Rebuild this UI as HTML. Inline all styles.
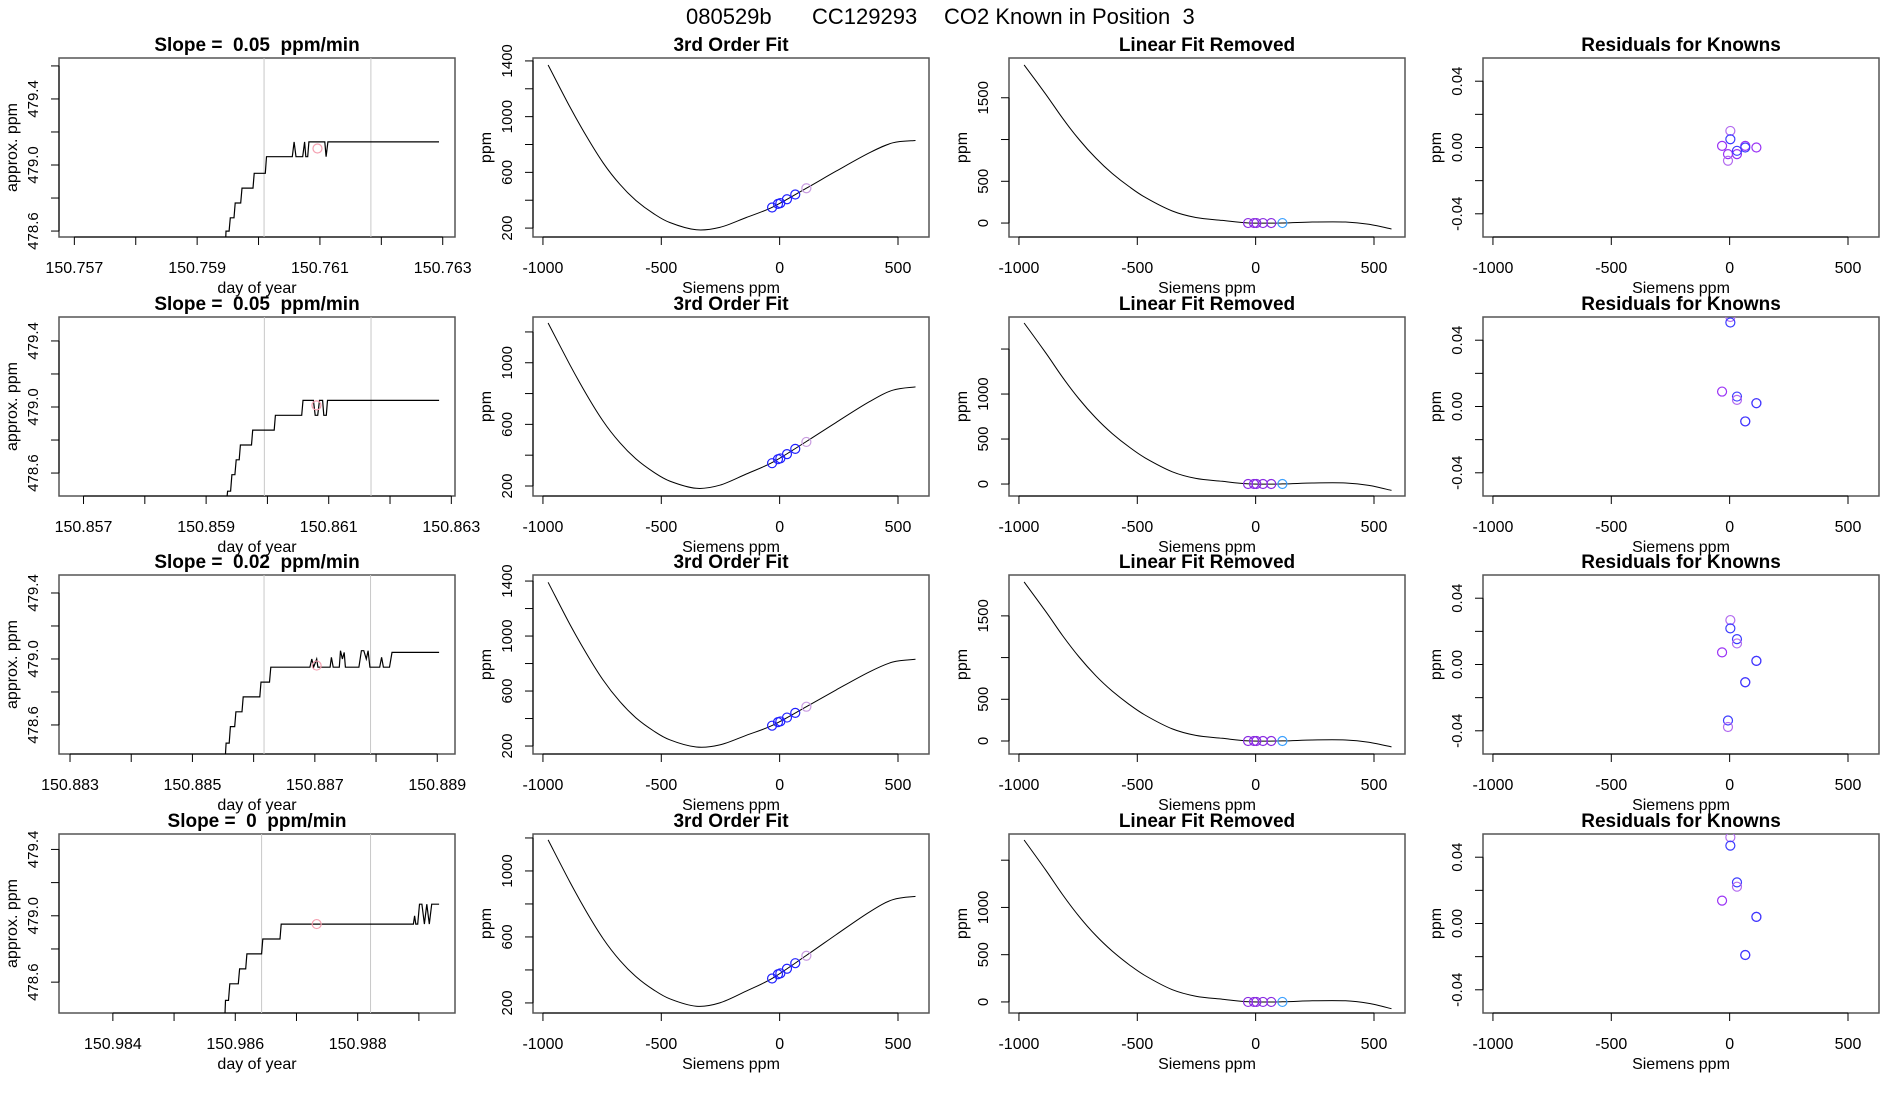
<!DOCTYPE html>
<html><head><meta charset="utf-8">
<style>
html,body{margin:0;padding:0;background:#fff;}
svg{display:block;font-family:"Liberation Sans",sans-serif;}
text{white-space:pre;}
</style></head>
<body>
<svg id="fig" width="1900" height="1100" viewBox="0 0 1900 1100" xmlns="http://www.w3.org/2000/svg" xml:space="preserve">
<rect width="1900" height="1100" fill="#fff"/>
<g font-size="22" fill="#000">
<text x="686" y="24">080529b</text>
<text x="812" y="24">CC129293</text>
<text x="944" y="24">CO2 Known in Position  3</text>
</g>
</svg>
<script>
// ---------- data ----------
const rowTops = [58, 317, 575, 834];
const slopeLabels = ["0.05", "0.05", "0.02", "0"];
const tsDomains = [[150.75675,150.7632],[150.8566,150.86306],[150.88282,150.88929],[150.98312,150.98959]];
const tsYDomains = [[478.564,479.648],[478.461,479.545],[478.424,479.509],[478.414,479.493]];
const tsTickStart = [150.757,150.857,150.883,150.984];
const tsLabelEvery = [[0,2,4,6],[0,2,4,6],[0,2,4,6],[0,2,4]];
const tsT1 = [150.75945,150.75947,150.75952,150.75954,150.7596,150.75962,150.75971,150.75973,150.75991,150.75993,150.76011,150.76013,150.76055,150.76058,150.76061,150.76072,150.76075,150.76077,150.7608,150.76082,150.76108,150.7611,150.76113,150.76294];
const tsV1 = [478.4,478.6,478.6,478.68,478.68,478.77,478.77,478.86,478.86,478.95,478.95,479.05,479.05,479.14,479.05,479.05,479.14,479.05,479.05,479.14,479.14,479.05,479.14,479.14];
const tsT2 = [150.8593,150.85935,150.8594,150.85942,150.85947,150.85949,150.85954,150.85956,150.85974,150.85976,150.86011,150.86013,150.86056,150.86058,150.86075,150.86078,150.86082,150.86085,150.8609,150.86092,150.86096,150.86098,150.8628];
const tsV2 = [478.3,478.49,478.49,478.59,478.59,478.68,478.68,478.77,478.77,478.86,478.86,478.95,478.95,479.04,479.04,478.95,478.95,479.04,479.04,478.95,478.95,479.04,479.04];
const tsT3 = [150.88552,150.88555,150.8856,150.88562,150.88569,150.88571,150.88581,150.88583,150.8861,150.88612,150.88626,150.88628,150.88692,150.88695,150.88698,150.88703,150.88705,150.88725,150.88727,150.8873,150.8874,150.88742,150.88745,150.88748,150.8875,150.88772,150.88776,150.8878,150.88784,150.88787,150.8879,150.88806,150.88809,150.88812,150.88822,150.88826,150.88903];
const tsV3 = [478.3,478.49,478.49,478.59,478.59,478.68,478.68,478.77,478.77,478.86,478.86,478.95,478.95,479.0,478.95,479.0,478.95,478.95,479.01,478.95,478.95,479.05,479.0,479.04,478.95,478.95,479.05,479.05,479.0,479.05,478.95,478.95,479.01,478.95,478.95,479.04,479.04];
const tsT4 = [150.98582,150.98584,150.98589,150.98591,150.98605,150.98607,150.98617,150.98619,150.98643,150.98645,150.98673,150.98675,150.98891,150.98893,150.98895,150.98898,150.98901,150.98905,150.98909,150.98913,150.98917,150.98921,150.98933];
const tsV4 = [478.3,478.49,478.49,478.59,478.59,478.68,478.68,478.77,478.77,478.86,478.86,478.95,478.95,479.0,478.95,478.95,479.07,479.07,478.95,479.07,478.95,479.07,479.07];
const tsTimes = [tsT1, tsT2, tsT3, tsT4];
const tsValues = [tsV1, tsV2, tsV3, tsV4];
const grayLines = [[150.76009,150.76183],[150.85995,150.86169],[150.88617,150.88791],[150.98643,150.98821]];
const pinkT = [150.76096,150.8608,150.88703,150.98733];
const pinkV = [479.1,479.01,478.96,478.95];
const curveX = [-978,-886,-816,-746,-675,-605,-535,-464,-352,-253,-141,-28,113,239,380,478,574];
const fit1 = [1371,1070,859,669,514,395,307,240,188,205,276,352,486,609,741,812,829];
const fit2 = [1258,987,794,621,481,373,293,232,185,205,278,355,489,613,748,822,843];
const fit3 = [1391,1085,872,680,523,402,313,245,193,208,278,352,486,608,740,811,831];
const fit4 = [1188,933,752,590,458,357,282,225,180,200,272,352,488,614,752,826,846];
const fits = [fit1, fit2, fit3, fit4];
const fitYDomains = [[136,1421],[135,1297],[142,1444],[139,1224]];
const lin1 = [1893,1540,1256,1000,777,592,437,303,144,67,32,1,1,12,12,-15,-71];
const lin2 = [1789,1455,1187,945,734,559,413,286,136,63,30,1,1,12,12,-15,-71];
const lin3 = [1907,1550,1265,1007,782,596,440,305,145,67,32,1,1,12,12,-15,-71];
const lin4 = [1713,1393,1137,905,703,536,395,274,130,61,29,1,1,12,12,-15,-71];
const lins = [lin1, lin2, lin3, lin4];
const linYDomains = [[-167,1976],[-133,1856],[-156,1990],[-117,1777]];
const linYLabels = [[0,500,1500],[0,500,1000],[0,500,1500],[0,500,1000]];
const knownX = [-32,-7,3,31,66,113];
const knownY = [348,374,379,407,441,486];
const resX1 = [3,3,-32,-7,-7,31,31,66,66,113];
const resV1 = [0.010,0.005,0.001,-0.004,-0.008,-0.004,-0.002,0.001,0.0,0.0];
const resC1 = ["v","b","p","p","v","p","b","p","b","p"];
const resX2 = [3,3,-32,31,31,66,66,113,113];
const resV2 = [0.054,0.0507,0.009,0.006,0.004,-0.009,-0.009,0.002,0.002];
const resC2 = ["v","b","p","b","v","p","b","p","b"];
const resX3 = [3,3,31,31,-32,113,113,66,66,-7,-7];
const resV3 = [0.0268,0.0218,0.0153,0.0127,0.0073,0.0022,0.0022,-0.0107,-0.0107,-0.0338,-0.0377];
const resC3 = ["v","b","b","v","p","p","b","p","b","b","v"];
const resX4 = [3,3,31,31,-32,113,113,66,66];
const resV4 = [0.052,0.047,0.0248,0.0222,0.0138,0.004,0.004,-0.019,-0.019];
const resC4 = ["v","b","b","v","p","p","b","p","b"];
const resXs = [resX1,resX2,resX3,resX4];
const resVs = [resV1,resV2,resV3,resV4];
const resCs = [resC1,resC2,resC3,resC4];
const colMap = {p:"#9a32f5", b:"#3b3bff", v:"#b36bf0"};

// ---------- drawing ----------
const NS = "http://www.w3.org/2000/svg";
const svg = document.getElementById("fig");
const PW = 396, PH = 179;
const panelLefts = [59, 533, 1009, 1483];
let clipN = 0;
function mk(tag, attrs, parent) {
  const e = document.createElementNS(NS, tag);
  for (const k in attrs) e.setAttribute(k, attrs[k]);
  (parent || svg).appendChild(e);
  return e;
}
function scale(d, r) { return v => r[0] + (v - d[0]) / (d[1] - d[0]) * (r[1] - r[0]); }
function smoothPath(P) {
  let d = "M" + P[0][0].toFixed(1) + "," + P[0][1].toFixed(1);
  for (let i = 0; i < P.length - 1; i++) {
    const p0 = P[Math.max(0, i - 1)], p1 = P[i], p2 = P[i + 1], p3 = P[Math.min(P.length - 1, i + 2)];
    const c1x = p1[0] + (p2[0] - p0[0]) / 6, c1y = p1[1] + (p2[1] - p0[1]) / 6;
    const c2x = p2[0] - (p3[0] - p1[0]) / 6, c2y = p2[1] - (p3[1] - p1[1]) / 6;
    d += " C" + c1x.toFixed(1) + "," + c1y.toFixed(1) + " " + c2x.toFixed(1) + "," + c2y.toFixed(1) + " " + p2[0].toFixed(1) + "," + p2[1].toFixed(1);
  }
  return d;
}

function drawPanel(L, T, xd, yd, title, xlab, ylab, xticks, xlabels, yticks, ylabels, name) {
  const g = mk("g", {});
  
  
  const sx = scale(xd, [L, L + PW]), sy = scale(yd, [T + PH, T]);
  const id = "c" + (clipN++);
  const cp = mk("clipPath", {id: id}, g);
  mk("rect", {x: L, y: T, width: PW, height: PH}, cp);
  const box = mk("rect", {x: L, y: T, width: PW, height: PH, fill: "none", stroke: "#555", "stroke-width": 1.5}, g);
  
  
  const t = mk("text", {x: L + PW / 2, y: T - 7, "text-anchor": "middle", "font-size": 19, "font-weight": "bold"}, g);
  t.textContent = title;
  
  
  const xa = mk("g", {}, g);
  
  
  const xs = xticks.map(sx);
  mk("line", {x1: Math.min(...xs), x2: Math.max(...xs), y1: T + PH, y2: T + PH, stroke: "#000"}, xa);
  xticks.forEach((v, i) => {
    const x = sx(v);
    mk("line", {x1: x, x2: x, y1: T + PH, y2: T + PH + 8, stroke: "#000"}, xa);
    if (xlabels[i] !== "") {
      const tx = mk("text", {x: x, y: T + PH + 36, "text-anchor": "middle", "font-size": 16}, xa);
      tx.textContent = xlabels[i];
    }
  });
  const xl = mk("text", {x: L + PW / 2, y: T + PH + 56, "text-anchor": "middle", "font-size": 16}, g);
  xl.textContent = xlab;
  
  
  const ya = mk("g", {}, g);
  
  
  const ys = yticks.map(sy);
  mk("line", {x1: L, x2: L, y1: Math.min(...ys), y2: Math.max(...ys), stroke: "#000"}, ya);
  yticks.forEach((v, i) => {
    const y = sy(v);
    mk("line", {x1: L - 8, x2: L, y1: y, y2: y, stroke: "#000"}, ya);
    if (ylabels[i] !== "") {
      const ty = mk("text", {x: 0, y: 0, "text-anchor": "middle", "font-size": 15,
        transform: "translate(" + (L - 21) + "," + y + ") rotate(-90)"}, ya);
      ty.textContent = ylabels[i];
    }
  });
  const yl = mk("text", {x: 0, y: 0, "text-anchor": "middle", "font-size": 16,
    transform: "translate(" + (L - 42) + "," + (T + PH / 2) + ") rotate(-90)"}, g);
  yl.textContent = ylab;
  
  
  const plot = mk("g", {"clip-path": "url(#" + id + ")"}, g);
  return {g: plot, sx: sx, sy: sy};
}
function circle(p, cx, cy, col, nm) {
  const c = mk("circle", {cx: cx, cy: cy, r: 4.5, fill: "none", stroke: col, "stroke-width": 1.2}, p);
  
  
}

for (let r = 0; r < 4; r++) {
  const T = rowTops[r];
  const xt = [], xl = [];
  for (let k = 0; k <= 6; k++) {
    const v = +(tsTickStart[r] + k * 0.001).toFixed(3);
    if (v > tsDomains[r][1]) break;
    xt.push(v);
    xl.push(tsLabelEvery[r].includes(k) ? v.toFixed(3) : "");
  }
  const yt = [], yl = [];
  for (let v = 478.6; v <= tsYDomains[r][1] + 1e-9; v += 0.2) {
    yt.push(+v.toFixed(1));
    const s = v.toFixed(1);
    yl.push(["478.6","479.0","479.4"].includes(s) ? s : "");
  }
  const p1 = drawPanel(panelLefts[0], T, tsDomains[r], tsYDomains[r], "Slope =  " + slopeLabels[r] + "  ppm/min",
    "day of year", "approx. ppm", xt, xl, yt, yl, "time-series-panel-row" + (r + 1));
  grayLines[r].forEach(t => {
    const l = mk("line", {x1: p1.sx(t), x2: p1.sx(t), y1: T, y2: T + PH, stroke: "#c8c8c8"}, p1.g);
    
    
  });
  const pts = tsTimes[r].map((t, i) => p1.sx(t).toFixed(1) + "," + p1.sy(tsValues[r][i]).toFixed(1)).join(" ");
  const pl = mk("polyline", {points: pts, fill: "none", stroke: "#000", "stroke-width": 1.2}, p1.g);
  
  
  circle(p1.g, p1.sx(pinkT[r]), p1.sy(pinkV[r]), "#f4a0b0", "mean-point");

  const sxD = [-1042, 631];
  const xt2 = [-1000, -500, 0, 500], xl2 = ["-1000", "-500", "0", "500"];
  const yt2 = [], yl2 = [];
  for (let v = 200; v <= fitYDomains[r][1]; v += 200) { yt2.push(v); yl2.push([200, 600, 1000, 1400].includes(v) ? String(v) : ""); }
  const p2 = drawPanel(panelLefts[1], T, sxD, fitYDomains[r], "3rd Order Fit", "Siemens ppm", "ppm", xt2, xl2, yt2, yl2, "third-order-fit-panel-row" + (r + 1));
  const fP = curveX.map((x, i) => [p2.sx(x), p2.sy(fits[r][i])]);
  const fl = mk("path", {d: smoothPath(fP), fill: "none", stroke: "#000", "stroke-width": 1}, p2.g);
  
  
  knownX.forEach((x, i) => circle(p2.g, p2.sx(x), p2.sy(knownY[i]), i === knownX.length - 1 ? "#c89be0" : "#2020ff", "known-standard-point"));

  const yt3 = [], yl3 = [];
  for (let v = 0; v <= linYDomains[r][1]; v += 500) { yt3.push(v); yl3.push(linYLabels[r].includes(v) ? String(v) : ""); }
  const p3 = drawPanel(panelLefts[2], T, sxD, linYDomains[r], "Linear Fit Removed", "Siemens ppm", "ppm", xt2, xl2, yt3, yl3, "linear-fit-removed-panel-row" + (r + 1));
  const lP = curveX.map((x, i) => [p3.sx(x), p3.sy(lins[r][i])]);
  const ll = mk("path", {d: smoothPath(lP), fill: "none", stroke: "#000", "stroke-width": 1}, p3.g);
  
  
  knownX.forEach((x, i) => circle(p3.g, p3.sx(x), p3.sy(0), i === knownX.length - 1 ? "#3aa0ff" : "#8a2be2", "detrended-known-point"));

  const yt4 = [-0.04, -0.02, 0, 0.02, 0.04], yl4 = ["-0.04", "", "0.00", "", "0.04"];
  const p4 = drawPanel(panelLefts[3], T, sxD, [-0.054, 0.054], "Residuals for Knowns", "Siemens ppm", "ppm", xt2, xl2, yt4, yl4, "residuals-panel-row" + (r + 1));
  resXs[r].forEach((x, i) => circle(p4.g, p4.sx(x), p4.sy(resVs[r][i]), colMap[resCs[r][i]], "residual-point"));
}
</script>
</body></html>
